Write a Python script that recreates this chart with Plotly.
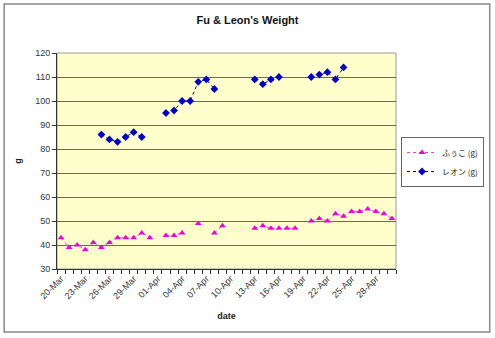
import plotly.graph_objects as go
import pandas as pd

# Data
dates = pd.date_range("2008-03-20", "2008-04-30", freq="D")
fuko_map = {
    "03-20": 43, "03-21": 39, "03-22": 40, "03-23": 38, "03-24": 41, "03-25": 39,
    "03-26": 41, "03-27": 43, "03-28": 43, "03-29": 43, "03-30": 45, "03-31": 43,
    "04-02": 44, "04-03": 44, "04-04": 45, "04-06": 49, "04-08": 45, "04-09": 48,
    "04-13": 47, "04-14": 48, "04-15": 47, "04-16": 47, "04-17": 47, "04-18": 47,
    "04-20": 50, "04-21": 51, "04-22": 50, "04-23": 53, "04-24": 52, "04-25": 54,
    "04-26": 54, "04-27": 55, "04-28": 54, "04-29": 53, "04-30": 51,
}
leon_map = {
    "03-25": 86, "03-26": 84, "03-27": 83, "03-28": 85, "03-29": 87, "03-30": 85,
    "04-02": 95, "04-03": 96, "04-04": 100, "04-05": 100, "04-06": 108, "04-07": 109,
    "04-08": 105, "04-13": 109, "04-14": 107, "04-15": 109, "04-16": 110,
    "04-20": 110, "04-21": 111, "04-22": 112, "04-23": 109, "04-24": 114,
}
fuko = [fuko_map.get(d.strftime("%m-%d")) for d in dates]
leon = [leon_map.get(d.strftime("%m-%d")) for d in dates]

FONT = "Liberation Sans, Arial, Noto Sans CJK JP, sans-serif"

fig = go.Figure()
fig.add_trace(go.Scatter(
    x=dates, y=fuko, name="ふぅこ (g)", mode="lines+markers", connectgaps=False,
    line=dict(color="#FF33EE", width=1, dash="dot"),
    marker=dict(symbol="triangle-up", size=6, color="#EE00DD"),
))
fig.add_trace(go.Scatter(
    x=dates, y=leon, name="レオン (g)", mode="lines+markers", connectgaps=False,
    line=dict(color="#000080", width=1, dash="dot"),
    marker=dict(symbol="diamond", size=6, color="#0000CC"),
))

L, R, T, B = 57, 98, 53, 69
W, H = 495, 338
pw, ph = W - L - R, H - T - B

def px(x):
    return (x - L) / pw

def py(y):
    return (H - B - y) / ph

fig.update_layout(
    width=W, height=H,
    margin=dict(l=L, r=R, t=T, b=B),
    paper_bgcolor="white", plot_bgcolor="#FFFFCC",
    font=dict(family=FONT, size=9, color="#222"),
    title=dict(text="<b>Fu &amp; Leon's Weight</b>", x=0.5, xanchor="center",
               y=1 - 20 / H, yanchor="middle", font=dict(size=11, color="#111")),
    showlegend=True,
    legend=dict(x=px(401), y=py(162), xanchor="left", yanchor="middle",
                bgcolor="white", bordercolor="#666", borderwidth=1,
                font=dict(size=8, family="Noto Sans CJK JP, " + FONT),
                tracegroupgap=0, itemwidth=30),
    xaxis=dict(
        type="date",
        range=["2008-03-19 12:00", "2008-04-30 12:00"],
        tick0="2008-03-20", dtick=3 * 86400000, tickformat="%d-%b",
        tickangle=-45, ticks="", showgrid=False,
        showline=True, linecolor="#333", linewidth=1,
        minor=dict(tick0="2008-03-19 12:00", dtick=86400000, ticks="outside",
                   ticklen=4, tickcolor="#333", showgrid=False),
        title=dict(text="<b>date</b>", font=dict(size=9), standoff=12),
        tickfont=dict(size=9, color="#333"),
    ),
    yaxis=dict(
        range=[30, 120], dtick=10, ticks="outside", ticklen=4, tickcolor="#333",
        showgrid=True, gridcolor="#6b6b55", gridwidth=1,
        showline=True, linecolor="#333", linewidth=1, zeroline=False,
        title=dict(text="<b>g</b>", font=dict(size=9), standoff=12),
        tickfont=dict(size=9, color="#333"),
    ),
    shapes=[
        dict(type="rect", xref="paper", yref="paper", x0=px(4), x1=px(491),
             y0=py(332), y1=py(4), line=dict(color="#888", width=1.5),
             fillcolor="rgba(0,0,0,0)", layer="below"),
        dict(type="rect", xref="paper", yref="paper", x0=0, x1=1, y0=0, y1=1,
             line=dict(color="#999", width=1), fillcolor="rgba(0,0,0,0)",
             layer="below"),
    ],
)

fig.write_html("out.html")
